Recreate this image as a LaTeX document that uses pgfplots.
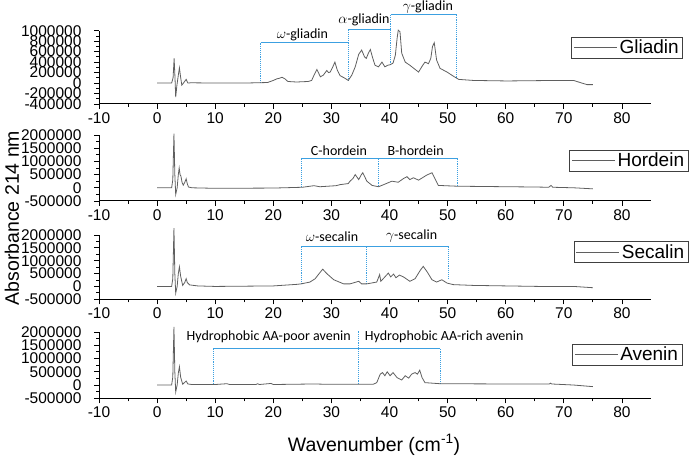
\documentclass[border=0pt]{standalone}
\usepackage{pgfplots}
\pgfplotsset{compat=1.18}
\usepackage{fontspec}
\setmainfont{Liberation Sans}
\newfontfamily\annfont{Carlito}

\definecolor{brk}{RGB}{60,160,225}
\definecolor{crv}{RGB}{95,95,95}

\tikzset{ann/.style={font=\annfont\fontsize{14}{16}\selectfont, inner sep=0pt}}

\pgfplotsset{
  panel/.style={
    scale only axis, width=552pt,
    xmin=-10, xmax=85,
    axis x line*=bottom, axis y line*=left,
    tick align=outside,
    scaled y ticks=false, scaled x ticks=false,
    xtick={-10,0,10,20,30,40,50,60,70,80},
    xticklabels={-10,0,10,20,30,40,50,60,70,80},
    minor x tick num=1,
    minor y tick num=1,
    major tick length=5pt, minor tick length=3pt,
    every tick/.style={black, line width=0.8pt},
    axis line style={black, line width=1pt},
    tick label style={font=\fontsize{15.5}{16}\selectfont},
    yticklabel style={xshift=-9pt},
    clip=false,
    legend style={draw=black!75, line width=0.6pt, font=\fontsize{19}{21}\selectfont, inner xsep=2pt, inner ysep=1pt, anchor=center, cells={anchor=west}},
    legend image code/.code={\draw[#1] (0pt,0pt) -- (43pt,0pt);},
  },
  curve/.style={crv, line width=0.8pt, no marks},
  hb/.style={brk, line width=0.9pt, no marks, forget plot},
  vb/.style={brk, line width=0.9pt, densely dotted, no marks, forget plot},
}

\begin{document}
\begin{tikzpicture}
\useasboundingbox (0,0) rectangle (692pt,457pt);

% ---------------- Gliadin ----------------
\begin{axis}[panel, at={(99pt,353pt)}, anchor=south west, height=73.3pt,
  ymin=-400000, ymax=1000000,
  ytick={-400000,-200000,0,200000,400000,600000,800000,1000000},
  yticklabels={-400000,-200000,0,200000,400000,600000,800000,1000000},
  legend style={at={(0.957,0.771)}}]
\addplot[vb] coordinates {(17.8,0) (17.8,769000)};
\addplot[hb] coordinates {(17.8,769000) (32.9,769000)};
\addplot[vb] coordinates {(32.9,50000) (32.9,1033000)};
\addplot[hb] coordinates {(32.9,1033000) (40.2,1033000)};
\addplot[vb] coordinates {(40.2,340000) (40.2,1315000)};
\addplot[hb] coordinates {(40.2,1315000) (51.6,1315000)};
\addplot[vb] coordinates {(51.6,90000) (51.6,1315000)};
\addplot[curve] coordinates {
(0,0) (2.5,0) (2.75,100000) (2.93,470000) (3.08,100000) (3.2,-270000) (3.4,-50000) (3.65,150000) (3.84,290000) (4.0,150000) (4.25,-40000) (4.6,10000) (5.0,70000) (5.3,0) (5.8,5000) (10,0) (15,0) (19,10000) (20,50000) (20.6,80000) (21,90000) (21.5,110000) (22,80000) (22.5,30000) (24,20000) (26,30000) (26.6,50000) (27,150000) (27.5,260000) (28.1,120000) (28.6,150000) (29.2,240000) (29.5,200000) (29.8,210000) (30.2,300000) (30.6,400000) (31,250000) (31.5,140000) (32.2,100000) (32.9,50000) (33.5,150000) (34.1,310000) (34.7,550000) (35.2,630000) (35.7,500000) (36,470000) (36.4,580000) (36.7,640000) (37.1,480000) (37.5,340000) (38.1,310000) (38.7,400000) (39.2,310000) (39.7,340000) (40.1,350000) (40.6,380000) (41.0,530000) (41.3,850000) (41.5,1010000) (41.8,980000) (42.1,570000) (42.7,400000) (43.5,340000) (44.3,270000) (45.0,210000) (45.6,320000) (46.1,400000) (46.7,370000) (47.1,470000) (47.4,700000) (47.7,770000) (48.1,440000) (48.7,280000) (49.9,210000) (51.0,130000) (51.9,70000) (54.4,50000) (60.2,40000) (68.8,50000) (71.7,50000) (72.8,10000) (74.0,-30000) (75,-30000)};
\addlegendentry{Gliadin}
\node[ann] at (axis cs:25,917000) {$\omega$-gliadin};
\node[ann] at (axis cs:35.6,1200000) {$\alpha$-gliadin};
\node[ann] at (axis cs:46.6,1455000) {$\gamma$-gliadin};
\end{axis}

% ---------------- Hordein ----------------
\begin{axis}[panel, at={(99pt,256pt)}, anchor=south west, height=66pt,
  ymin=-500000, ymax=2000000,
  ytick={-500000,0,500000,1000000,1500000,2000000},
  yticklabels={-500000,0,500000,1000000,1500000,2000000},
  legend style={at={(0.960,0.614)}}]
\addplot[vb] coordinates {(24.8,50000) (24.8,1106000)};
\addplot[hb] coordinates {(24.8,1106000) (51.7,1106000)};
\addplot[vb] coordinates {(38.1,60000) (38.1,1106000)};
\addplot[vb] coordinates {(51.7,60000) (51.7,1106000)};
\addplot[curve] coordinates {
(0,0) (2.5,0) (2.7,300000) (2.9,2050000) (3.05,500000) (3.2,-250000) (3.45,0) (3.65,500000) (3.8,750000) (3.95,500000) (4.1,440000) (4.3,200000) (4.5,100000) (4.75,200000) (5.0,340000) (5.2,150000) (5.4,30000) (6,0) (10,-20000) (20,-10000) (25,20000) (27,80000) (28,40000) (30.8,80000) (31.5,120000) (32.9,160000) (33.2,250000) (33.7,350000) (34.1,500000) (34.7,310000) (35.1,480000) (35.4,570000) (36.1,250000) (37,90000) (38.1,40000) (39,120000) (40.4,250000) (41.5,210000) (42.4,350000) (43,420000) (43.5,310000) (44.1,380000) (45,290000) (46.4,480000) (47.3,570000) (47.9,310000) (48.4,90000) (51.6,60000) (60.2,40000) (65,30000) (67.4,20000) (67.8,90000) (68.1,20000) (71.7,0) (75,-40000)};
\addlegendentry{Hordein}
\node[ann] at (axis cs:31.3,1420000) {C-hordein};
\node[ann] at (axis cs:44.5,1420000) {B-hordein};
\end{axis}

% ---------------- Secalin ----------------
\begin{axis}[panel, at={(99pt,157.7pt)}, anchor=south west, height=64.3pt,
  ymin=-500000, ymax=2000000,
  ytick={-500000,0,500000,1000000,1500000,2000000},
  yticklabels={-500000,0,500000,1000000,1500000,2000000},
  legend style={at={(0.964,0.736)}}]
\addplot[vb] coordinates {(24.8,100000) (24.8,1570000)};
\addplot[hb] coordinates {(24.8,1570000) (50.2,1570000)};
\addplot[vb] coordinates {(36.1,100000) (36.1,1570000)};
\addplot[vb] coordinates {(50.2,300000) (50.2,1570000)};
\addplot[curve] coordinates {
(0,0) (2.5,0) (2.7,300000) (2.9,2270000) (3.05,500000) (3.2,-260000) (3.45,0) (3.65,500000) (3.84,760000) (4.05,400000) (4.4,40000) (4.75,150000) (5.0,300000) (5.2,150000) (5.6,60000) (7,20000) (10,0) (20,20000) (24,80000) (24.8,100000) (26.3,170000) (27.2,300000) (28.1,560000) (28.5,670000) (29.2,500000) (30.4,260000) (32.1,100000) (33.2,100000) (34.7,200000) (35.2,100000) (36.1,100000) (37.8,170000) (38.3,460000) (38.5,200000) (39.2,370000) (39.8,520000) (40.2,370000) (40.7,480000) (41.1,340000) (41.7,440000) (42.4,370000) (43.5,200000) (44.4,300000) (45.3,630000) (45.8,780000) (46.5,560000) (47.3,260000) (48.1,170000) (49.0,260000) (49.9,130000) (51.0,70000) (54.4,40000) (65.9,0) (71.7,0) (75,-50000)};
\addlegendentry{Secalin}
\node[ann] at (axis cs:30.1,1950000) {$\omega$-secalin};
\node[ann] at (axis cs:43.8,1950000) {$\gamma$-secalin};
\end{axis}

% ---------------- Avenin ----------------
\begin{axis}[panel, at={(99pt,58.7pt)}, anchor=south west, height=66.3pt,
  ymin=-500000, ymax=2000000,
  ytick={-500000,0,500000,1000000,1500000,2000000},
  yticklabels={-500000,0,500000,1000000,1500000,2000000},
  legend style={at={(0.957,0.66)}}]
\addplot[vb] coordinates {(9.7,30000) (9.7,1380000)};
\addplot[hb] coordinates {(9.7,1380000) (48.7,1380000)};
\addplot[vb] coordinates {(34.7,30000) (34.7,2040000)};
\addplot[vb] coordinates {(48.7,50000) (48.7,1380000)};
\addplot[curve] coordinates {
(0,0) (2.5,0) (2.7,300000) (2.9,2190000) (3.05,500000) (3.2,-260000) (3.45,0) (3.65,450000) (3.84,690000) (4.05,300000) (4.4,30000) (4.75,100000) (5.0,150000) (5.3,40000) (6,20000) (10,20000) (12,50000) (12.5,20000) (17,20000) (17.3,50000) (17.6,20000) (19.6,60000) (20,20000) (27,40000) (29,30000) (31.5,30000) (37.2,30000) (37.8,90000) (38.4,410000) (38.8,470000) (39.2,350000) (39.6,500000) (40.1,350000) (40.6,470000) (41.3,280000) (42.1,190000) (42.7,350000) (43.3,260000) (43.8,410000) (44.4,470000) (44.8,410000) (45.2,560000) (45.6,280000) (46.1,90000) (48.7,50000) (60,40000) (67.5,40000) (67.7,70000) (67.9,40000) (71.7,0) (75,-60000)};
\addlegendentry{Avenin}
\node[ann] at (axis cs:19.2,1820000) {Hydrophobic AA-poor avenin};
\node[ann] at (axis cs:49.4,1820000) {Hydrophobic AA-rich avenin};
\end{axis}

\node[rotate=90, font=\fontsize{19.5}{22}\selectfont] at (12pt,239pt) {Absorbance 214 nm};
\node[font=\fontsize{19.5}{22}\selectfont] at (374pt,12pt) {Wavenumber (cm\textsuperscript{-1})};
\end{tikzpicture}
\end{document}
